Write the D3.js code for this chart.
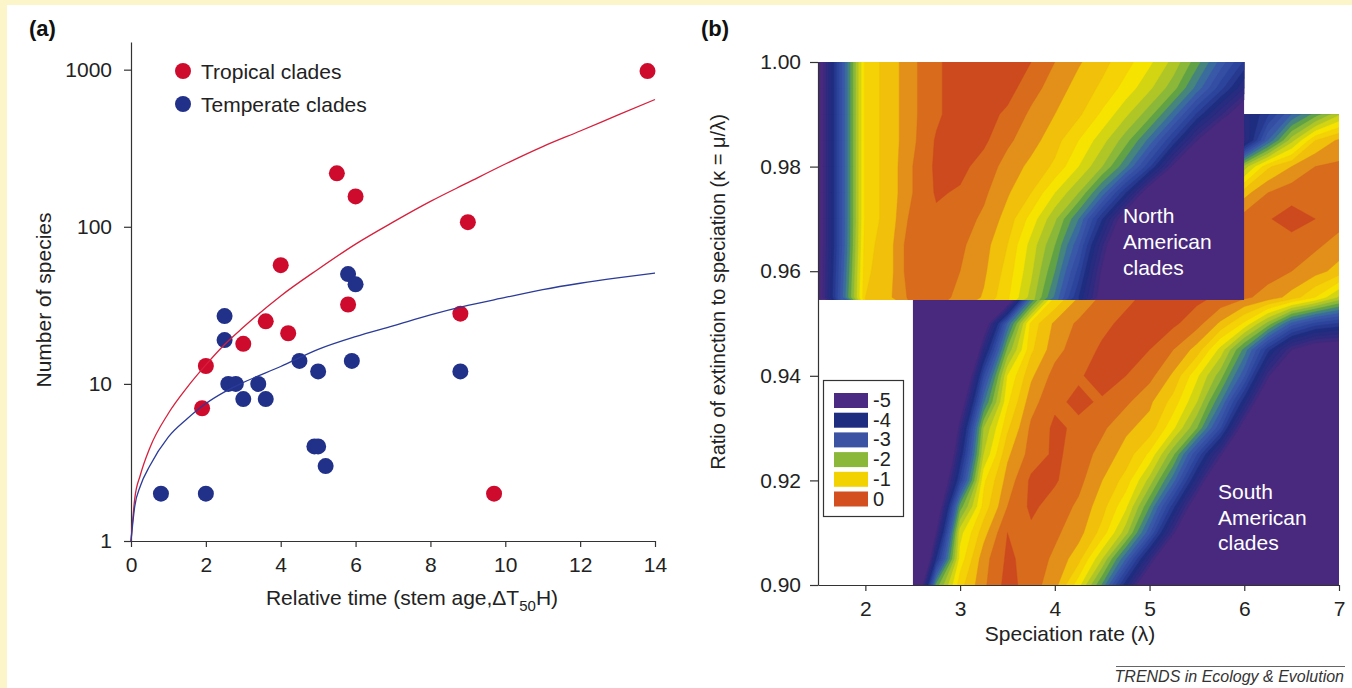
<!DOCTYPE html>
<html>
<head>
<script src="https://d3js.org/d3.v7.min.js"></script>
<title>Clade diversity</title>
<style>
  body { margin: 0; background: #fff; }
  svg { display: block; }
</style>
</head>
<body>
<script>
var FONT = '"Liberation Sans", Arial, Helvetica, sans-serif';

// ---------- panel (a) data ----------
// [relative time, number of species]
var tropicalClades = [[13.8, 980], [5.5, 219], [6.0, 156], [9.0, 107], [4.0, 57], [5.8, 32],
  [8.8, 28], [3.6, 25], [4.2, 21], [3.0, 18], [2.0, 13], [1.9, 7], [9.7, 2]];
var temperateClades = [[2.5, 27], [2.5, 19], [5.8, 50], [6.0, 43], [2.6, 10], [2.8, 10],
  [3.0, 8], [3.4, 10], [3.6, 8], [4.5, 14], [5.0, 12], [5.9, 14], [8.8, 12], [4.9, 4],
  [5.0, 4], [5.2, 3], [0.8, 2], [2.0, 2]];
// fitted curves
var fitTime = [0, 0.1, 0.25, 0.5, 1, 1.5, 2, 2.5, 3, 4, 5, 6, 7, 8, 9, 10, 11, 12, 13, 14];
var tropicalFit = [1, 1.86, 2.63, 3.9, 6.5, 9.5, 13.2, 17.8, 22.9, 36.3, 53.7, 77.6, 107, 145, 191, 251, 324, 407, 513, 646];
var temperateFit = [1, 1.66, 2.24, 3.0, 4.6, 6.0, 7.5, 8.9, 10.2, 12.9, 16.6, 20, 23.4, 27.5, 31.6, 35.5, 39.8, 43.7, 47.3, 50.8];
var timeTicks = [0, 2, 4, 6, 8, 10, 12, 14];
var speciesTicks = [1, 10, 100, 1000];

// ---------- panel (b) data ----------
var lambdaTicks = [2, 3, 4, 5, 6, 7];
var kappaTicks = [0.90, 0.92, 0.94, 0.96, 0.98, 1.00];
var legendLevels = [-5, -4, -3, -2, -1, 0];

// North American clades: log-likelihood grid, rows from kappa 1.000 down to 0.955
var naLambda = [1.5, 1.75, 2, 2.25, 2.5, 2.75, 3, 3.25, 3.5, 3.75, 4, 4.25, 4.5, 4.75, 5, 5.25, 5.5, 5.75, 6];
var naKappa = [1.000, 0.995, 0.990, 0.985, 0.980, 0.975, 0.970, 0.965, 0.960, 0.955];
var naGrid = [
  [-5.5,-3.3,-1.15,-0.9,-0.55,-0.3,-0.1,-0.05,-0.1,-0.25,-0.5,-0.72,-0.92,-1.15,-1.45,-1.83,-2.4,-3.1,-3.8],
  [-5.5,-3.3,-1.15,-0.9,-0.55,-0.3,-0.1,-0.08,-0.15,-0.4,-0.62,-0.85,-1.05,-1.35,-1.7,-2.15,-2.85,-3.65,-4.5],
  [-5.5,-3.3,-1.15,-0.9,-0.55,-0.3,-0.1,-0.15,-0.3,-0.55,-0.75,-0.95,-1.3,-1.7,-2.15,-2.85,-3.8,-4.7,-5.6],
  [-5.5,-3.3,-1.15,-0.9,-0.55,-0.22,-0.12,-0.2,-0.45,-0.65,-0.9,-1.25,-1.65,-2.15,-2.85,-3.8,-5.0,-6.0,-7.0],
  [-5.5,-3.3,-1.15,-0.9,-0.5,-0.2,-0.18,-0.35,-0.6,-0.82,-1.05,-1.5,-2.0,-2.7,-3.7,-5.1,-6.5,-7.5,-8],
  [-5.5,-3.3,-1.15,-0.9,-0.5,-0.22,-0.28,-0.45,-0.72,-1.0,-1.5,-2.0,-2.85,-4.0,-5.5,-7,-8,-8,-8],
  [-5.5,-3.3,-1.15,-0.9,-0.4,-0.3,-0.38,-0.55,-0.85,-1.35,-1.95,-2.75,-4.0,-5.5,-7,-8,-8,-8,-8],
  [-5.5,-3.3,-1.1,-0.85,-0.3,-0.35,-0.45,-0.65,-1.0,-1.6,-2.25,-3.2,-4.7,-6.2,-8,-8,-8,-8,-8],
  [-5.5,-3.2,-1.05,-0.85,-0.3,-0.38,-0.5,-0.7,-1.1,-1.7,-2.5,-3.6,-5.1,-6.6,-8,-8,-8,-8,-8],
  [-5.5,-3.1,-1.0,-0.8,-0.4,-0.42,-0.55,-0.78,-1.2,-1.85,-2.8,-4.0,-5.3,-6.8,-8,-8,-8,-8,-8]
];

// South American clades: rows from kappa 0.990 down to 0.900
var saLambda = [2.5, 2.75, 3, 3.25, 3.5, 3.75, 4, 4.25, 4.5, 4.75, 5, 5.25, 5.5, 5.75, 6, 6.25, 6.5, 6.75, 7];
var saKappa = [0.990, 0.985, 0.980, 0.975, 0.970, 0.965, 0.960, 0.955, 0.950, 0.945,
  0.940, 0.935, 0.930, 0.925, 0.920, 0.915, 0.910, 0.905, 0.900];
var saGrid = [
  [-10,-10,-10,-10,-10,-10,-10,-10,-10,-10,-10,-10,-8,-6,-4.4,-3.8,-3.0,-2.4,-1.8],
  [-10,-10,-10,-10,-10,-10,-10,-10,-10,-10,-10,-10,-8,-6.2,-4.6,-3.0,-1.85,-1.0,-0.7],
  [-10,-10,-10,-10,-10,-10,-10,-10,-10,-10,-8,-6.5,-5,-3.4,-1.9,-1.05,-0.75,-0.5,-0.45],
  [-10,-10,-10,-10,-10,-10,-10,-10,-10,-8,-6,-4,-2.6,-1.4,-0.85,-0.5,-0.35,-0.3,-0.35],
  [-10,-10,-10,-10,-10,-10,-7,-4.5,-2,-1.1,-0.7,-0.5,-0.42,-0.4,-0.38,-0.27,-0.15,-0.25,-0.4],
  [-10,-10,-10,-10,-10,-7,-4,-1.6,-0.95,-0.6,-0.4,-0.3,-0.25,-0.28,-0.35,-0.3,-0.35,-0.45,-0.6],
  [-10,-10,-10,-10,-8,-4.5,-1.6,-0.8,-0.5,-0.35,-0.22,-0.18,-0.15,-0.2,-0.3,-0.4,-0.5,-0.65,-0.85],
  [-10,-10,-10,-9,-6,-2.9,-1.25,-0.75,-0.45,-0.3,-0.2,-0.15,-0.18,-0.3,-0.45,-0.6,-0.85,-1.25,-1.8],
  [-10,-10,-9,-5.6,-3.0,-1.15,-0.7,-0.45,-0.3,-0.2,-0.15,-0.2,-0.4,-0.8,-1.3,-2.1,-3.1,-3.6,-3.8],
  [-10,-9.5,-7.8,-4.5,-2.2,-1.05,-0.6,-0.35,-0.22,-0.15,-0.25,-0.5,-0.85,-1.6,-2.6,-3.9,-5.0,-5.5,-5.6],
  [-10,-9,-6.5,-3.5,-1.5,-0.8,-0.4,-0.28,-0.15,-0.25,-0.42,-0.8,-1.45,-2.15,-3.2,-4.9,-7,-8,-8],
  [-10,-8.5,-5.6,-2.8,-1.3,-0.6,-0.3,-0.2,-0.28,-0.45,-0.7,-1.1,-1.75,-2.75,-4.2,-6.0,-8,-8,-8],
  [-10,-8,-4.8,-2.0,-1.05,-0.45,-0.2,-0.3,-0.45,-0.7,-0.85,-1.45,-2.25,-3.5,-5.4,-7.2,-8,-8,-8],
  [-10,-7.2,-4.3,-1.75,-0.8,-0.4,-0.2,-0.35,-0.6,-0.85,-1.3,-2.2,-3.5,-4.9,-6.8,-8,-8,-8,-8],
  [-9,-6.4,-3.7,-1.3,-0.65,-0.2,-0.22,-0.42,-0.75,-1.1,-1.85,-2.9,-4.4,-6.3,-8,-8,-8,-8,-8],
  [-9,-5.8,-2.4,-1.15,-0.5,-0.2,-0.35,-0.55,-0.9,-1.45,-2.5,-3.9,-5.6,-7.2,-8,-8,-8,-8,-8],
  [-8.5,-5.0,-1.6,-0.85,-0.25,-0.3,-0.45,-0.65,-1.1,-1.9,-3.2,-4.9,-6.8,-8,-8,-8,-8,-8,-8],
  [-8,-4.0,-1.4,-0.6,-0.2,-0.35,-0.55,-0.9,-1.75,-3.0,-4.6,-6.5,-8,-8,-8,-8,-8,-8,-8],
  [-7,-2.4,-1.1,-0.55,-0.15,-0.38,-0.65,-1.4,-2.55,-4.2,-6,-8,-8,-8,-8,-8,-8,-8,-8]
];

// ---------- drawing ----------
var width = 1352, height = 688;
var svg = d3.select("body").append("svg")
    .attr("width", width)
    .attr("height", height)
    .style("font-family", FONT);

// cream page edge
svg.append("rect").attr("width", width).attr("height", height).attr("fill", "#fbf5c9");
svg.append("rect").attr("x", 7).attr("y", 5).attr("width", width - 7).attr("height", height - 5).attr("fill", "#fff");

function styleAxis(g) {
    g.attr("font-size", 21).attr("font-family", FONT);
    g.selectAll("path, line").attr("stroke", "#333").attr("stroke-width", 1.2);
    g.selectAll("text").attr("fill", "#222");
}

// ===== (a) =====
var xA = d3.scaleLinear().domain([0, 14]).range([131, 655]);
var yA = d3.scaleLog().domain([1, 1500]).range([541, 42]);

svg.append("g")
    .attr("transform", "translate(0,541)")
    .call(d3.axisBottom(xA).tickValues(timeTicks).tickSize(6).tickSizeOuter(0).tickPadding(10))
    .call(styleAxis);
svg.append("g")
    .attr("transform", "translate(131,0)")
    .call(d3.axisLeft(yA).tickValues(speciesTicks).tickFormat(d3.format("d")).tickSize(7).tickSizeOuter(0).tickPadding(12))
    .call(styleAxis);

var red = "#cf0b2d", blue = "#213089";

svg.selectAll("circle.trop")
    .data(tropicalClades)
    .enter().append("circle")
    .attr("class", "trop")
    .attr("cx", function(d) { return xA(d[0]); })
    .attr("cy", function(d) { return yA(d[1]); })
    .attr("r", 8)
    .attr("fill", red);
svg.selectAll("circle.temp")
    .data(temperateClades)
    .enter().append("circle")
    .attr("class", "temp")
    .attr("cx", function(d) { return xA(d[0]); })
    .attr("cy", function(d) { return yA(d[1]); })
    .attr("r", 8)
    .attr("fill", blue);

var fitLine = d3.line()
    .x(function(d) { return xA(d[0]); })
    .y(function(d) { return yA(d[1]); })
    .curve(d3.curveMonotoneX);
svg.append("path")
    .attr("d", fitLine(fitTime.map(function(t, i) { return [t, tropicalFit[i]]; })))
    .attr("fill", "none").attr("stroke", "#d6203c").attr("stroke-width", 1.3);
svg.append("path")
    .attr("d", fitLine(fitTime.map(function(t, i) { return [t, temperateFit[i]]; })))
    .attr("fill", "none").attr("stroke", "#2b3b98").attr("stroke-width", 1.3);

// legend (a)
[["Tropical clades", red, 71], ["Temperate clades", blue, 104]].forEach(function(l) {
    svg.append("circle").attr("cx", 183).attr("cy", l[2]).attr("r", 8).attr("fill", l[1]);
    svg.append("text").attr("x", 201).attr("y", l[2] + 7.5)
        .attr("font-size", 21).attr("fill", "#222").text(l[0]);
});

svg.append("text").attr("x", 29).attr("y", 36).attr("font-size", 22).attr("font-weight", "bold")
    .attr("fill", "#111").text("(a)");
svg.append("text").attr("transform", "translate(51,300) rotate(-90)")
    .attr("text-anchor", "middle").attr("font-size", 21).attr("fill", "#222")
    .text("Number of species");
var xl = svg.append("text").attr("x", 412).attr("y", 605).attr("text-anchor", "middle")
    .attr("font-size", 21).attr("fill", "#222");
xl.append("tspan").text("Relative time (stem age,\u0394T");
xl.append("tspan").attr("dy", 6).attr("font-size", 15).text("50");
xl.append("tspan").attr("dy", -6).text("H)");

// ===== (b) =====
var xB = d3.scaleLinear().domain([1.5, 7]).range([818, 1339]);
var yB = d3.scaleLinear().domain([0.9, 1.0]).range([585, 62]);

var mapColor = d3.scaleLinear()
    .domain([-5, -4.5, -4, -3.5, -3, -2.6, -2.3, -2, -1.25, -0.75, -0.5, -0.25, 0])
    .range(["#48297d", "#2f2b80", "#1f2d80", "#2c449c", "#3a58a8", "#3a7896", "#5a9e4a",
            "#8cb83a", "#f7e300", "#f0c00a", "#e2901a", "#d86b1c", "#cd4a1e"]);
var legendColor = d3.scaleOrdinal()
    .domain(legendLevels)
    .range(["#4b2a83", "#1e2d80", "#3b53a2", "#8cb83a", "#f2d200", "#d34f1f"]);
var levels = d3.range(-5, 0, 0.25);

var defs = svg.append("defs");

function drawSurface(id, lambdas, kappas, rows, lamRange, kapRange) {
    var x0 = xB(lamRange[0]), x1 = xB(lamRange[1]);
    var y0 = yB(kapRange[1]), y1 = yB(kapRange[0]);
    defs.append("clipPath").attr("id", id).append("rect")
        .attr("x", x0).attr("y", y0).attr("width", x1 - x0).attr("height", y1 - y0);
    var g = svg.append("g").attr("clip-path", "url(#" + id + ")");
    g.append("rect").attr("x", x0).attr("y", y0).attr("width", x1 - x0).attr("height", y1 - y0)
        .attr("fill", mapColor(-5));

    var nx = lambdas.length, ny = kappas.length;
    var dl = lambdas[1] - lambdas[0], dk = kappas[1] - kappas[0];
    var values = [];
    rows.forEach(function(r) { r.forEach(function(v) { values.push(v); }); });
    var proj = d3.geoTransform({
        point: function(gx, gy) {
            this.stream.point(xB(lambdas[0] + (gx - 0.5) * dl), yB(kappas[0] + (gy - 0.5) * dk));
        }
    });
    var path = d3.geoPath(proj);
    var bands = d3.contours().size([nx, ny]).thresholds(levels)(values);
    g.selectAll("path")
        .data(bands)
        .enter().append("path")
        .attr("d", path)
        .attr("fill", function(d) { return mapColor(d.value + 0.25); })
        .attr("stroke", function(d) { return mapColor(d.value + 0.25); })
        .attr("stroke-width", 0.4);
    return g;
}

drawSurface("clipSA", saLambda, saKappa, saGrid, [2.5, 7.0], [0.90, 0.99]);
drawSurface("clipNA", naLambda, naKappa, naGrid, [1.5, 6.0], [0.9545, 1.0]);

svg.append("g")
    .attr("transform", "translate(0,585)")
    .call(d3.axisBottom(xB).tickValues(lambdaTicks).tickFormat(d3.format("d")).tickSize(6).tickSizeOuter(0).tickPadding(10))
    .call(styleAxis);
svg.append("g")
    .attr("transform", "translate(818,0)")
    .call(d3.axisLeft(yB).tickValues(kappaTicks).tickFormat(d3.format(".2f")).tickSize(8).tickSizeOuter(0).tickPadding(9))
    .call(styleAxis);

// region labels
function multiLine(x, baselines, words) {
    words.forEach(function(w, i) {
        svg.append("text").attr("x", x).attr("y", baselines[i])
            .attr("font-size", 21).attr("fill", "#fff").text(w);
    });
}
multiLine(1123, [223, 249, 275], ["North", "American", "clades"]);
multiLine(1218, [499, 525, 550], ["South", "American", "clades"]);

// legend (b)
var lg = svg.append("g");
lg.append("rect").attr("x", 823.5).attr("y", 380.5).attr("width", 80).attr("height", 136)
    .attr("fill", "#fff").attr("stroke", "#333").attr("stroke-width", 1.2);
legendLevels.forEach(function(v, i) {
    var y = 393 + i * 19.7;
    lg.append("rect").attr("x", 834).attr("y", y).attr("width", 34).attr("height", 15)
        .attr("fill", legendColor(v));
    lg.append("text").attr("x", 873).attr("y", y + 14).attr("font-size", 20)
        .attr("fill", "#222").text(v);
});

svg.append("text").attr("x", 701).attr("y", 36).attr("font-size", 22).attr("font-weight", "bold")
    .attr("fill", "#111").text("(b)");
svg.append("text").attr("transform", "translate(725,292) rotate(-90)")
    .attr("text-anchor", "middle").attr("font-size", 20).attr("fill", "#222")
    .text("Ratio of extinction to speciation (\u03ba = \u03bc/\u03bb)");
svg.append("text").attr("x", 1070).attr("y", 641).attr("text-anchor", "middle")
    .attr("font-size", 21).attr("fill", "#222").text("Speciation rate (\u03bb)");

// journal credit
svg.append("line").attr("x1", 1116).attr("x2", 1345).attr("y1", 666.5).attr("y2", 666.5)
    .attr("stroke", "#666").attr("stroke-width", 1);
svg.append("text").attr("x", 1344).attr("y", 682).attr("text-anchor", "end")
    .attr("font-size", 16).attr("font-style", "italic").attr("fill", "#333")
    .text("TRENDS in Ecology & Evolution");
</script>
</body>
</html>
